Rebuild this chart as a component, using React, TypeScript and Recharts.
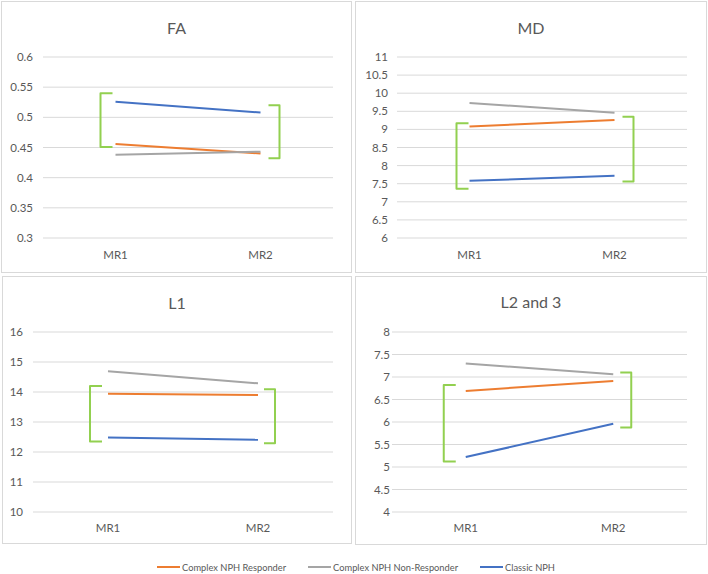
import { CartesianGrid, Line, LineChart, ReferenceLine, XAxis, YAxis } from "recharts";

// categories
const categories = ["MR1", "MR2"];

// series names (legend order)
const seriesNames = ["Complex NPH Responder", "Complex NPH Non-Responder", "Classic NPH"];

// FA
const faResponder = [0.456, 0.44];
const faNonResponder = [0.438, 0.443];
const faClassic = [0.526, 0.508];
const faTicks = [0.3, 0.35, 0.4, 0.45, 0.5, 0.55, 0.6];
const faBracketLow = [0.451, 0.432];
const faBracketHigh = [0.54, 0.52];

// MD
const mdResponder = [9.08, 9.26];
const mdNonResponder = [9.73, 9.46];
const mdClassic = [7.58, 7.72];
const mdTicks = [6, 6.5, 7, 7.5, 8, 8.5, 9, 9.5, 10, 10.5, 11];
const mdBracketLow = [7.36, 7.56];
const mdBracketHigh = [9.17, 9.35];

// L1
const l1Responder = [13.94, 13.9];
const l1NonResponder = [14.69, 14.29];
const l1Classic = [12.48, 12.41];
const l1Ticks = [10, 11, 12, 13, 14, 15, 16];
const l1BracketLow = [12.35, 12.29];
const l1BracketHigh = [14.2, 14.09];

// L2 and 3
const l23Responder = [6.69, 6.91];
const l23NonResponder = [7.3, 7.06];
const l23Classic = [5.22, 5.96];
const l23Ticks = [4, 4.5, 5, 5.5, 6, 6.5, 7, 7.5, 8];
const l23BracketLow = [5.12, 5.88];
const l23BracketHigh = [6.82, 7.1];

const COLORS = ["#ED7D31", "#A5A5A5", "#4472C4"];
const KEYS = ["responder", "nonResponder", "classic"];
const GREEN = "#92D050";
const TEXT = "#595959";
const BORDER = "#d9d9d9";
const FONT = "Lato, 'Open Sans', sans-serif";

function buildRows(responder: number[], nonResponder: number[], classic: number[]) {
  return categories.map((cat, i) => ({
    cat,
    responder: responder[i],
    nonResponder: nonResponder[i],
    classic: classic[i],
  }));
}

function bracketShape(side: "left" | "right", offset: number, cap: number) {
  return (p: any) => {
    const x = p.x1 + (side === "left" ? -offset : offset);
    const yTop = Math.min(p.y1, p.y2);
    const yBot = Math.max(p.y1, p.y2);
    const c = side === "left" ? cap : -cap;
    return (
      <path
        d={`M${x + c},${yTop} L${x},${yTop} L${x},${yBot} L${x + c},${yBot}`}
        fill="none"
        stroke={GREEN}
        strokeWidth={2}
        strokeLinejoin="round"
      />
    );
  };
}

interface PanelProps {
  title: string;
  rows: { cat: string; responder: number; nonResponder: number; classic: number }[];
  ticks: number[];
  bracketLow: number[];
  bracketHigh: number[];
  left: number;
  top: number;
  width: number;
  height: number;
  yWidth: number;
  yTickMargin: number;
  right: number;
  plotTop: number;
  plotBottomOffset: number;
  xTickMargin: number;
  titleY: number;
  leftOffset: number;
  rightOffset: number;
}

function Panel(props: PanelProps) {
  const w = props.width - 2;
  const h = props.height - 2;
  const xAxisHeight = 20;
  return (
    <div
      style={{
        position: "absolute",
        left: props.left,
        top: props.top,
        width: props.width,
        height: props.height,
        border: `1px solid ${BORDER}`,
        boxSizing: "border-box",
        background: "#fff",
      }}
    >
      <div
        style={{
          position: "absolute",
          left: 0,
          width: w,
          top: props.titleY - 10,
          height: 20,
          lineHeight: "20px",
          textAlign: "center",
          fontFamily: FONT,
          fontSize: 16,
          color: TEXT,
        }}
      >
        {props.title}
      </div>
      <LineChart
        width={w}
        height={h}
        data={props.rows}
        margin={{ top: props.plotTop, right: props.right, left: 0, bottom: props.plotBottomOffset - xAxisHeight }}
        style={{ position: "absolute", left: 0, top: 0 }}
      >
        <CartesianGrid vertical={false} stroke={BORDER} />
        <XAxis
          dataKey="cat"
          type="category"
          scale="band"
          height={xAxisHeight}
          axisLine={false}
          tickLine={false}
          tickMargin={props.xTickMargin}
          tick={{ fill: TEXT, fontSize: 11.5, fontFamily: FONT }}
        />
        <YAxis
          type="number"
          domain={[props.ticks[0], props.ticks[props.ticks.length - 1]]}
          ticks={props.ticks}
          interval={0}
          width={props.yWidth}
          axisLine={false}
          tickLine={false}
          tickMargin={props.yTickMargin}
          tick={{ fill: TEXT, fontSize: 11.5, fontFamily: FONT }}
        />
        {KEYS.map((k, i) => (
          <Line
            key={k}
            type="linear"
            dataKey={k}
            name={seriesNames[i]}
            stroke={COLORS[i]}
            strokeWidth={2}
            dot={false}
            activeDot={false}
            isAnimationActive={false}
          />
        ))}
        <ReferenceLine
          segment={[
            { x: categories[0], y: props.bracketLow[0] },
            { x: categories[0], y: props.bracketHigh[0] },
          ]}
          shape={bracketShape("left", props.leftOffset, 12)}
        />
        <ReferenceLine
          segment={[
            { x: categories[1], y: props.bracketLow[1] },
            { x: categories[1], y: props.bracketHigh[1] },
          ]}
          shape={bracketShape("right", props.rightOffset, 11)}
        />
      </LineChart>
    </div>
  );
}

function SharedLegend() {
  return (
    <div
      style={{
        position: "absolute",
        left: 0,
        top: 560,
        width: 712,
        height: 14,
        display: "flex",
        justifyContent: "center",
        alignItems: "center",
        gap: 22,
        fontFamily: FONT,
        fontSize: 9.3,
        color: TEXT,
      }}
    >
      {seriesNames.map((name, i) => (
        <div key={name} style={{ display: "flex", alignItems: "center", gap: 2 }}>
          <span style={{ display: "inline-block", width: 23, height: 2, background: COLORS[i] }} />
          <span>{name}</span>
        </div>
      ))}
    </div>
  );
}

export default function App() {
  return (
    <div style={{ position: "absolute", left: 0, top: 0, width: 708, height: 574, background: "#fff" }}>
      <Panel
        title="FA"
        rows={buildRows(faResponder, faNonResponder, faClassic)}
        ticks={faTicks}
        bracketLow={faBracketLow}
        bracketHigh={faBracketHigh}
        left={1}
        top={1}
        width={351}
        height={272}
        yWidth={41}
        yTickMargin={4}
        right={18}
        plotTop={55}
        plotBottomOffset={34}
        xTickMargin={7}
        titleY={26}
        leftOffset={15}
        rightOffset={19}
      />
      <Panel
        title="MD"
        rows={buildRows(mdResponder, mdNonResponder, mdClassic)}
        ticks={mdTicks}
        bracketLow={mdBracketLow}
        bracketHigh={mdBracketHigh}
        left={355}
        top={1}
        width={352}
        height={272}
        yWidth={41}
        yTickMargin={3}
        right={19}
        plotTop={55}
        plotBottomOffset={34}
        xTickMargin={7}
        titleY={26}
        leftOffset={13}
        rightOffset={19}
      />
      <Panel
        title="L1"
        rows={buildRows(l1Responder, l1NonResponder, l1Classic)}
        ticks={l1Ticks}
        bracketLow={l1BracketLow}
        bracketHigh={l1BracketHigh}
        left={2}
        top={276}
        width={350}
        height={268}
        yWidth={30}
        yTickMargin={4}
        right={18}
        plotTop={55}
        plotBottomOffset={31}
        xTickMargin={6}
        titleY={26}
        leftOffset={18}
        rightOffset={17}
      />
      <Panel
        title="L2 and 3"
        rows={buildRows(l23Responder, l23NonResponder, l23Classic)}
        ticks={l23Ticks}
        bracketLow={l23BracketLow}
        bracketHigh={l23BracketHigh}
        left={355}
        top={276}
        width={352}
        height={269}
        yWidth={36}
        yTickMargin={-4}
        right={19}
        plotTop={55}
        plotBottomOffset={32}
        xTickMargin={6}
        titleY={25}
        leftOffset={22}
        rightOffset={18}
      />
      <SharedLegend />
    </div>
  );
}
